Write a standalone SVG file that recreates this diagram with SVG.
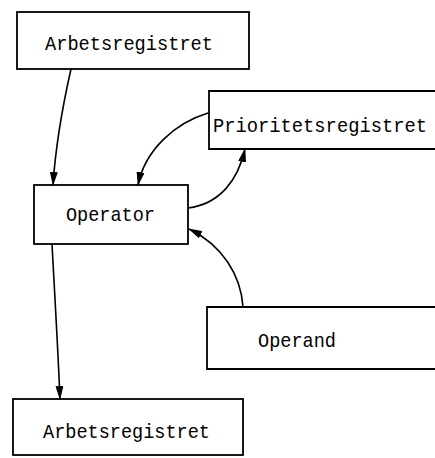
<svg xmlns="http://www.w3.org/2000/svg" width="435" height="458" viewBox="0 0 435 458">
<defs>
<style>
.box{fill:#fff;stroke:#000;stroke-width:1.8}
.open{fill:none;stroke:#000;stroke-width:1.8}
.lbl{font-family:"Liberation Mono","DejaVu Sans Mono",monospace;font-size:21px;fill:#000}
.conn path{fill:none;stroke:#000;stroke-width:1.6;marker-end:url(#ah)}
</style>
<marker id="ah" viewBox="0 0 14 8" refX="13" refY="4" markerWidth="14" markerHeight="8" markerUnits="userSpaceOnUse" orient="auto">
<path d="M0,0 L14,4 L0,8 Z" fill="#000"/>
</marker>
</defs>
<rect width="435" height="458" fill="#fff"/>
<g id="arbetsregistret-top">
<rect class="box" x="17" y="12" width="232" height="57"/>
<text class="lbl" x="45" y="50" textLength="168" lengthAdjust="spacingAndGlyphs">Arbetsregistret</text>
</g>
<g id="prioritetsregistret">
<path class="open" d="M435,91 H209 V149 H435"/>
<text class="lbl" x="213" y="132" textLength="214" lengthAdjust="spacingAndGlyphs">Prioritetsregistret</text>
</g>
<g id="operator">
<rect class="box" x="34" y="185" width="154" height="59"/>
<text class="lbl" x="66" y="221" textLength="89" lengthAdjust="spacingAndGlyphs">Operator</text>
</g>
<g id="operand">
<path class="open" d="M435,307 H207 V369 H435"/>
<text class="lbl" x="258" y="347" textLength="78" lengthAdjust="spacingAndGlyphs">Operand</text>
</g>
<g id="arbetsregistret-bottom">
<rect class="box" x="13" y="399" width="230" height="56"/>
<text class="lbl" x="43" y="438" textLength="167" lengthAdjust="spacingAndGlyphs">Arbetsregistret</text>
</g>
<g id="connectors" class="conn">
<path d="M71,69 C64,100 56,140 53,185"/>
<path d="M208,113 C175,123 145,150 138,185"/>
<path d="M188,208 C220,204 238,180 245,149"/>
<path d="M243,307 C241,275 222,245 189,229"/>
<path d="M52,244 C55,300 58,350 60,399"/>
</g>
</svg>
